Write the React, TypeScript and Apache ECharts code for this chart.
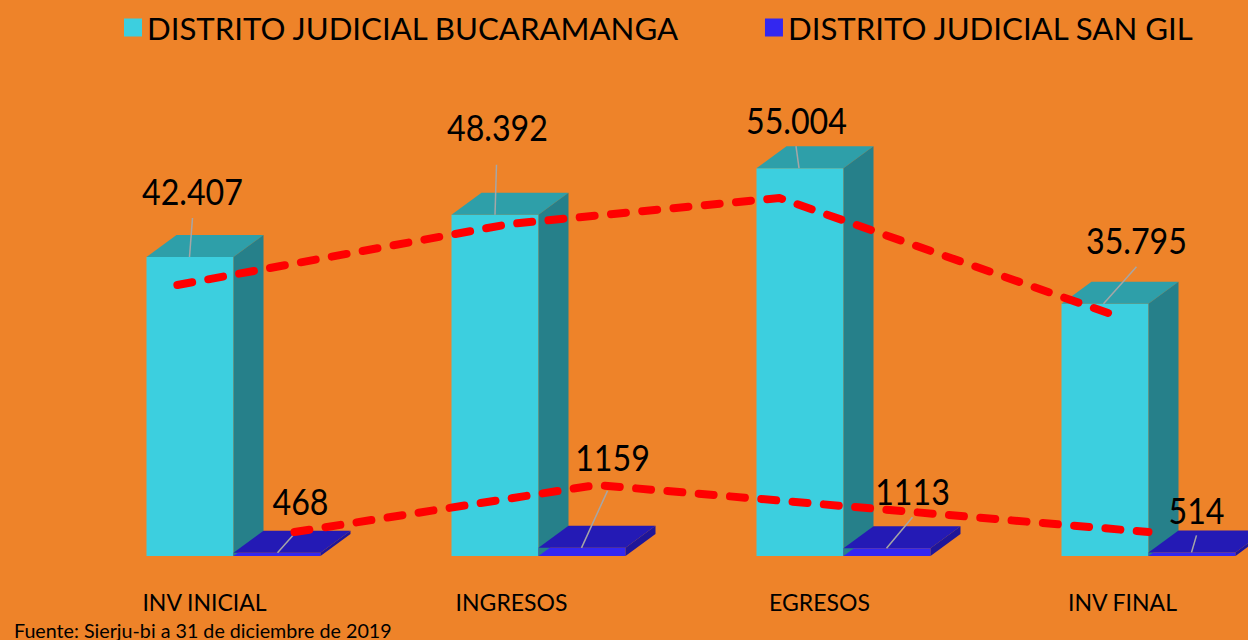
import React, { useEffect, useRef } from "react";
import * as echarts from "echarts";

const categories = ["INV INICIAL", "INGRESOS", "EGRESOS", "INV FINAL"];
const bucaramanga = [42407, 48392, 55004, 35795];
const sanGil = [468, 1159, 1113, 514];
const bucaramangaLabels = ["42.407", "48.392", "55.004", "35.795"];
const sanGilLabels = ["468", "1159", "1113", "514"];
// Hand-drawn dashed trend lines: [position along categories, value]
const trendBucaramanga = [[-0.184, 38440], [0.905, 47090], [1.79, 50780], [2.905, 33900]];
const trendSanGil = [[0.2, 3400], [1.19, 10070], [3.0, 3400]];

const FONT = "Lato";
const DEPTH_X = 30;
const DEPTH_Y = 22;
const LABEL_SHIFT = [58, 54, 48, 52];
// label centre and leader line, relative to the top centre of each bar
const bucaramangaCallouts = [
  { label: [2.5, -66], leader: [2.5, -39, -0.5, 0] },
  { label: [2.5, -88], leader: [1.5, -50, 0, 0] },
  { label: [-3.5, -49], leader: [-4, -22, -1, 0] },
  { label: [31.5, -64], leader: [31.5, -37, -1.5, 0] },
];
const sanGilCallouts = [
  { label: [23.5, -52], leader: [16.5, -18, 0.5, 0] },
  { label: [30.5, -91], leader: [25.5, -57, -0.5, 0] },
  { label: [25.5, -58], leader: [25.5, -31, -0.5, 0] },
  { label: [4.5, -43], leader: [4.5, -17, -0.5, 0] },
];

function faces(offset: number, width: number, top: string, side: string, texts: string[], callouts: any[]) {
  return (params: any, api: any) => {
    const i = api.value(0);
    const v = api.value(1);
    const [cx0, y] = api.coord([i, v]);
    const [, y0] = api.coord([i, 0]);
    const cx = cx0 + offset;
    const l = cx - width / 2;
    const r = cx + width / 2;
    const c = callouts[i];
    return {
      type: "group",
      children: [
        { type: "polygon", shape: { points: [[l, y], [r, y], [r + DEPTH_X, y - DEPTH_Y], [l + DEPTH_X, y - DEPTH_Y]] }, style: { fill: top } },
        { type: "polygon", shape: { points: [[r, y], [r + DEPTH_X, y - DEPTH_Y], [r + DEPTH_X, y0 - DEPTH_Y], [r, y0]] }, style: { fill: side } },
        {
          type: "line",
          shape: { x1: cx + c.leader[0], y1: y + c.leader[1], x2: cx + c.leader[2], y2: y + c.leader[3] },
          style: { stroke: "#A6A6A6", lineWidth: 1.5 },
        },
        {
          type: "text",
          x: cx + c.label[0],
          y: y + c.label[1],
          scaleX: 0.87,
          style: { text: texts[i], fill: "#000", font: `37px ${FONT}`, align: "center", verticalAlign: "middle" },
        },
      ],
    };
  };
}

export default function App() {
  const ref = useRef<HTMLDivElement>(null);
  useEffect(() => {
    document.body.style.margin = "0";
    const chart = echarts.init(ref.current!, null, { renderer: "svg" });
    const barW = 87;
    const trend = (data: number[][]) => ({
      type: "line",
      xAxisIndex: 1,
      data,
      symbol: "none",
      z: 5,
      lineStyle: { color: "#FF0000", width: 8, type: [15, 16.4], cap: "round", join: "round" },
    });
    chart.setOption({
      animation: false,
      backgroundColor: "#EE8329",
      title: {
        text: "Fuente: Sierju-bi a 31 de diciembre de 2019",
        left: 9,
        top: 615,
        textStyle: { fontFamily: FONT, fontSize: 19.7, fontWeight: "normal", color: "#000" },
      },
      legend: {
        left: 119,
        top: 7,
        icon: "rect",
        itemWidth: 18,
        itemHeight: 18,
        itemGap: 85,
        data: ["DISTRITO JUDICIAL BUCARAMANGA", "DISTRITO JUDICIAL SAN GIL"],
        textStyle: { fontFamily: FONT, fontSize: 31.2, color: "#000" },
      },
      grid: { left: 81, width: 1220, top: 133, height: 423 },
      xAxis: [
        {
          type: "category",
          data: categories.map((c, i) => ({ value: c, textStyle: { padding: [0, LABEL_SHIFT[i], 0, 0] } })),
          axisLine: { show: false },
          axisTick: { show: false },
          axisLabel: { fontFamily: FONT, fontSize: 23, color: "#000", margin: 34, interval: 0 },
        },
        { type: "value", min: -0.5, max: 3.5, show: false },
      ],
      yAxis: { type: "value", min: 0, max: 60000, show: false },
      series: [
        {
          name: "DISTRITO JUDICIAL BUCARAMANGA",
          type: "bar",
          data: bucaramanga,
          barWidth: barW,
          barGap: 0,
          itemStyle: { color: "#3CCFDF" },
          z: 2,
        },
        {
          name: "DISTRITO JUDICIAL SAN GIL",
          type: "bar",
          data: sanGil,
          barWidth: barW,
          barGap: 0,
          itemStyle: { color: "#3327F0" },
          z: 2,
        },
        {
          type: "custom",
          name: "3d-a",
          data: bucaramanga.map((v, i) => [i, v]),
          renderItem: faces(-barW / 2, barW, "#2E9FA9", "#26808A", bucaramangaLabels, bucaramangaCallouts),
          z: 3,
        },
        {
          type: "custom",
          name: "3d-b",
          data: sanGil.map((v, i) => [i, v]),
          renderItem: faces(barW / 2, barW, "#241AB5", "#1F1699", sanGilLabels, sanGilCallouts),
          z: 3,
        },
        trend(trendBucaramanga),
        trend(trendSanGil),
      ],
    });
    return () => chart.dispose();
  }, []);
  return (
    <div style={{ position: "absolute", left: 0, top: 0, width: 1248, height: 640, overflow: "hidden" }}>
      <div ref={ref} style={{ width: 1320, height: 640 }} />
    </div>
  );
}
